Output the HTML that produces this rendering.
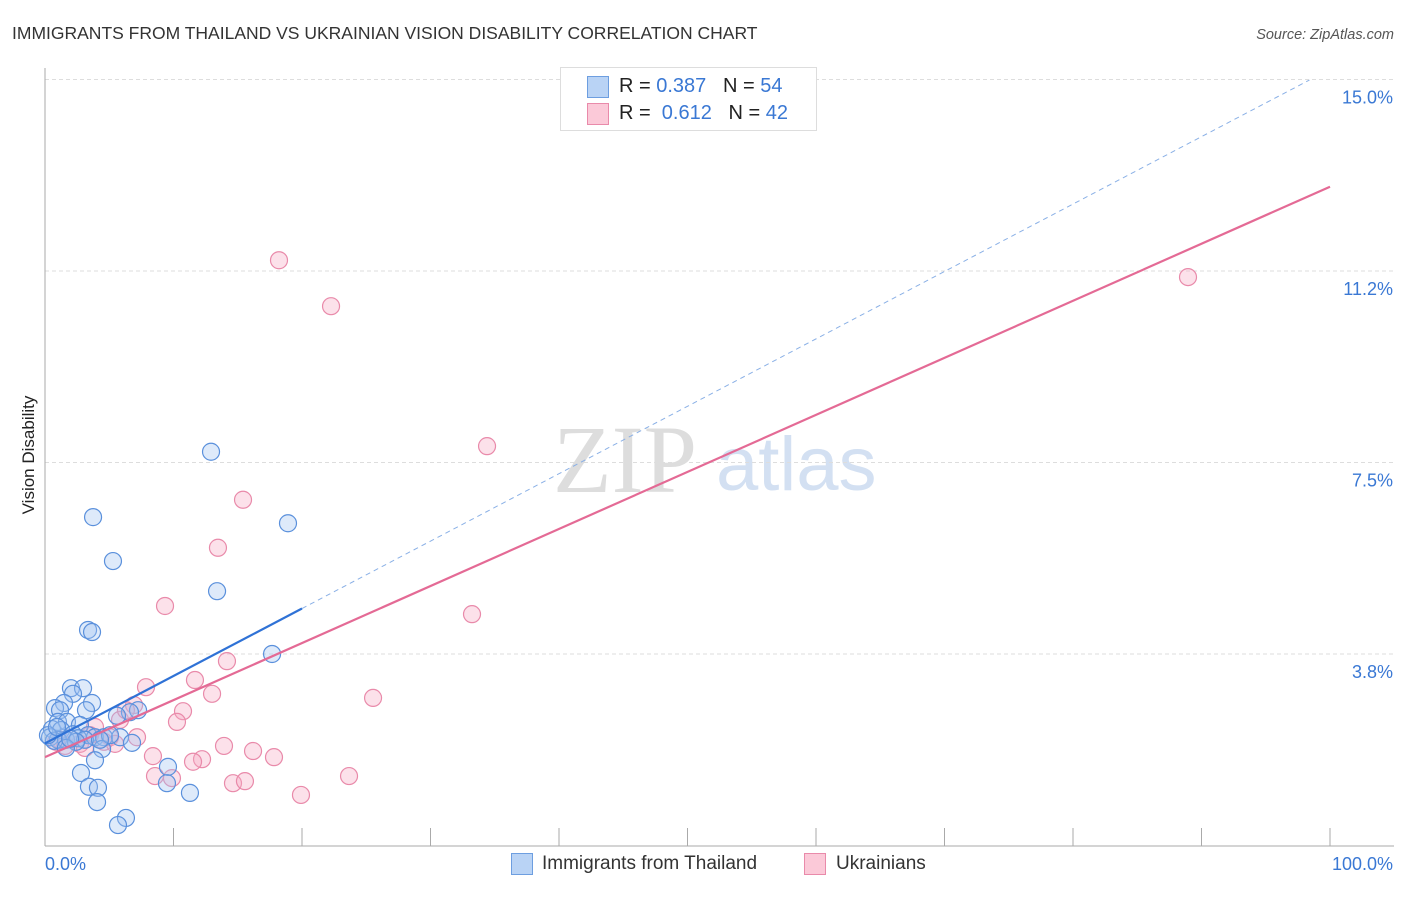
<!DOCTYPE html>
<html><head><meta charset="utf-8"><style>
body{margin:0;background:#fff;font-family:"Liberation Sans",sans-serif;}
#c{position:relative;width:1406px;height:892px;}
</style></head><body>
<div id="c">
<svg id="s" width="1406" height="892">
<text x="12" y="39" font-size="17.5" fill="#333">IMMIGRANTS FROM THAILAND VS UKRAINIAN VISION DISABILITY CORRELATION CHART</text>
<text x="1394" y="39" font-size="14.5" fill="#555" font-style="italic" text-anchor="end">Source: ZipAtlas.com</text>
<text x="34" y="455" font-size="17" fill="#222" text-anchor="middle" transform="rotate(-90 34 455)">Vision Disability</text>
<text x="553" y="492" font-size="96" fill="#ddd" font-family="Liberation Serif,serif">ZIP</text>
<text x="716" y="490" font-size="76" fill="#d3e0f2">atlas</text>
<g id="grid"></g><g id="pts"></g><g id="lines"></g>
</svg>
<div style="position:absolute;left:560px;top:67px;width:255px;height:62px;border:1px solid #ddd;background:#fff;font-size:20px">
<div style="position:absolute;left:26px;top:8px;width:20px;height:20px;background:#b9d3f5;border:1px solid #6d9ee0"></div>
<div style="position:absolute;left:58px;top:7px;color:#222">R = <span style="color:#3a78d4">0.387</span>&nbsp;&nbsp;&nbsp;N = <span style="color:#3a78d4">54</span></div>
<div style="position:absolute;left:26px;top:35px;width:20px;height:20px;background:#fbc9d8;border:1px solid #e98aaa"></div>
<div style="position:absolute;left:58px;top:34px;color:#222">R = &nbsp;<span style="color:#3a78d4">0.612</span>&nbsp;&nbsp;&nbsp;N = <span style="color:#3a78d4">42</span></div>
</div>
<div style="position:absolute;left:511px;top:853px;width:20px;height:20px;background:#b9d3f5;border:1px solid #6d9ee0"></div>
<div style="position:absolute;left:542px;top:853px;font-size:19px;color:#333">Immigrants from Thailand</div>
<div style="position:absolute;left:804px;top:853px;width:20px;height:20px;background:#fbc9d8;border:1px solid #e98aaa"></div>
<div style="position:absolute;left:836px;top:853px;font-size:19px;color:#333">Ukrainians</div>
</div>
<script>
const yTicks=[3.75,7.5,11.25,15];
const yTickLabels=["3.8%","7.5%","11.2%","15.0%"];
const xTickLabels=["0.0%","100.0%"];
const bluePx=[[211,452],[93,517],[288,523],[113,561],[217,591],[88,630],[92,632],[272,654],[71,688],[83,688],[73,694],[92,703],[64,703],[55,708],[60,710],[86,710],[138,710],[130,712],[117,716],[58,722],[67,722],[80,725],[52,729],[61,730],[73,734],[88,735],[95,737],[50,737],[58,740],[66,740],[78,738],[85,740],[104,737],[120,737],[132,743],[102,749],[54,741],[76,742],[66,748],[95,760],[81,773],[168,767],[89,787],[98,788],[167,783],[190,793],[97,802],[126,818],[118,825],[48,735],[110,735],[57,727],[70,739],[100,740]];
const pinkPx=[[279,260],[331,306],[487,446],[1188,277],[243,500],[218,548],[165,606],[472,614],[227,661],[146,687],[195,680],[212,694],[373,698],[134,705],[183,711],[120,720],[177,722],[95,727],[137,737],[110,737],[224,746],[253,751],[274,757],[153,756],[202,759],[193,762],[155,776],[172,778],[349,776],[233,783],[245,781],[301,795],[65,746],[80,744],[104,742],[60,740],[70,738],[90,735],[126,710],[85,748],[115,744],[56,742]];
const blueX=bluePx.map(p=>+((p[0]-45)/12.85).toFixed(2));
const blueY=bluePx.map(p=>+((845.5-p[1])/51.07).toFixed(2));
const pinkX=pinkPx.map(p=>+((p[0]-45)/12.85).toFixed(2));
const pinkY=pinkPx.map(p=>+((845.5-p[1])/51.07).toFixed(2));
const blueTrend=[2.0,15.2];
const pinkTrend=[1.73,12.9];
const X=v=>45+v*12.85, Y=v=>845.5-v*51.07;
const NS="http://www.w3.org/2000/svg";
function mk(t,a,p){const e=document.createElementNS(NS,t);for(const k in a)e.setAttribute(k,a[k]);p.appendChild(e);return e;}
const g=document.getElementById('grid');
yTicks.forEach((t,i)=>{
 const l=mk('line',{x1:45,x2:1394,y1:Y(t),y2:Y(t),stroke:'#ddd','stroke-dasharray':'4,3'},g);
 
 
 const tx=mk('text',{x:1393,y:Y(t)+24,'font-size':18,fill:'#3a78d4','text-anchor':'end'},g);
 tx.textContent=yTickLabels[i];
 
 
});
let ax=mk('line',{x1:45,x2:45,y1:68,y2:846,stroke:'#aaa'},g);


ax=mk('line',{x1:45,x2:1394,y1:846,y2:846,stroke:'#aaa'},g);


for(let i=0;i<=10;i++){const t=mk('line',{x1:X(i*10),x2:X(i*10),y1:828,y2:846,stroke:'#aaa'},g);
 
 }
[[0,45,'start'],[100,1393,'end']].forEach((d,i)=>{const t=mk('text',{x:d[1],y:870,'font-size':18,fill:'#3a78d4','text-anchor':d[2]},g);t.textContent=xTickLabels[i];
 
 });
const pg=document.getElementById('pts');
pinkX.forEach((x,i)=>{const c=mk('circle',{cx:X(x),cy:Y(pinkY[i]),r:8.5,fill:'rgba(246,170,195,0.35)',stroke:'#e98aaa','stroke-width':1.2},pg);
 
 });
blueX.forEach((x,i)=>{const c=mk('circle',{cx:X(x),cy:Y(blueY[i]),r:8.5,fill:'rgba(160,195,240,0.35)',stroke:'#5a90dc','stroke-width':1.2},pg);
 
 });
const lg=document.getElementById('lines');
const by=x=>blueTrend[0]+(blueTrend[1]-blueTrend[0])*x/100;
let l=mk('line',{x1:X(20),y1:Y(by(20)),x2:X(98.4),y2:Y(by(98.4)),stroke:'#8ab0e6','stroke-width':1,'stroke-dasharray':'5,4'},lg);


l=mk('line',{x1:X(0),y1:Y(by(0)),x2:X(20),y2:Y(by(20)),stroke:'#2f72d6','stroke-width':2.2},lg);


l=mk('line',{x1:X(0),y1:Y(pinkTrend[0]),x2:X(100),y2:Y(pinkTrend[1]),stroke:'#e46a95','stroke-width':2.2},lg);


</script>
</body></html>
